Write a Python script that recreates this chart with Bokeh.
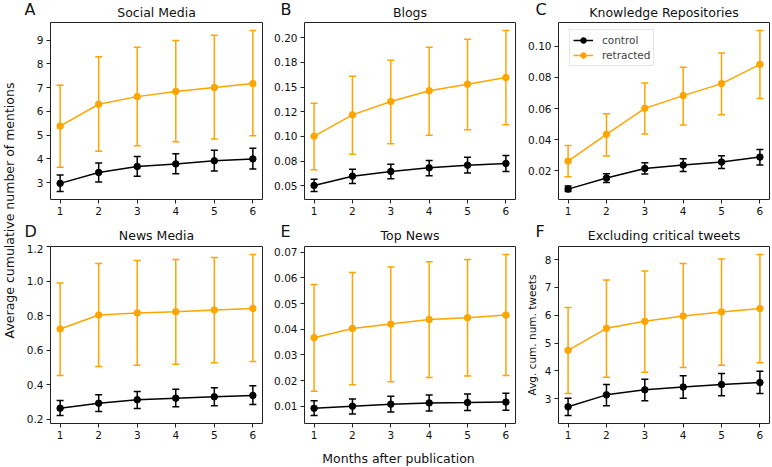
from bokeh.plotting import figure
from bokeh.layouts import row, column
from bokeh.models import (ColumnDataSource, Whisker, TeeHead, Range1d, FixedTicker,
                          Label, Legend, LegendItem)
from bokeh.embed import file_html
from bokeh.resources import INLINE
import math

# ---------------- data ----------------
months = [1, 2, 3, 4, 5, 6]

# A Social Media
sm_ret = [5.38, 6.30, 6.62, 6.84, 7.00, 7.17]
sm_ret_lo = [3.65, 4.32, 4.55, 4.72, 4.84, 4.97]
sm_ret_hi = [7.10, 8.30, 8.70, 8.98, 9.20, 9.40]
sm_ctl = [2.97, 3.43, 3.68, 3.79, 3.92, 4.00]
sm_ctl_lo = [2.63, 3.03, 3.27, 3.38, 3.49, 3.57]
sm_ctl_hi = [3.32, 3.83, 4.10, 4.22, 4.36, 4.45]

# B Blogs
bl_ret = [0.1003, 0.1219, 0.1354, 0.1463, 0.1530, 0.1597]
bl_ret_lo = [0.0662, 0.0820, 0.0926, 0.1013, 0.1067, 0.1118]
bl_ret_hi = [0.1337, 0.1610, 0.1773, 0.1905, 0.1986, 0.2074]
bl_ctl = [0.0503, 0.0597, 0.0645, 0.0682, 0.0709, 0.0726]
bl_ctl_lo = [0.0442, 0.0523, 0.0571, 0.0601, 0.0628, 0.0645]
bl_ctl_hi = [0.0567, 0.0668, 0.0719, 0.0756, 0.0790, 0.0807]

# C Knowledge Repositories
kr_ret = [0.0262, 0.0434, 0.0601, 0.0683, 0.0760, 0.0884]
kr_ret_lo = [0.0161, 0.0295, 0.0436, 0.0494, 0.0560, 0.0665]
kr_ret_hi = [0.0363, 0.0567, 0.0764, 0.0865, 0.0957, 0.1101]
kr_ctl = [0.0082, 0.0153, 0.0215, 0.0237, 0.0256, 0.0288]
kr_ctl_lo = [0.0067, 0.0125, 0.0179, 0.0195, 0.0215, 0.0237]
kr_ctl_hi = [0.0102, 0.0181, 0.0251, 0.0277, 0.0297, 0.0337]

# D News Media
nm_ret = [0.724, 0.805, 0.817, 0.824, 0.834, 0.843]
nm_ret_lo = [0.454, 0.506, 0.514, 0.520, 0.528, 0.535]
nm_ret_hi = [0.990, 1.103, 1.121, 1.127, 1.138, 1.155]
nm_ctl = [0.265, 0.294, 0.314, 0.323, 0.331, 0.339]
nm_ctl_lo = [0.223, 0.246, 0.264, 0.273, 0.279, 0.287]
nm_ctl_hi = [0.310, 0.343, 0.362, 0.375, 0.383, 0.395]

# E Top News
tn_ret = [0.0367, 0.0403, 0.0420, 0.0438, 0.0445, 0.0455]
tn_ret_lo = [0.0158, 0.0184, 0.0195, 0.0212, 0.0218, 0.0220]
tn_ret_hi = [0.0574, 0.0621, 0.0642, 0.0663, 0.0672, 0.0691]
tn_ctl = [0.0092, 0.0100, 0.0108, 0.0113, 0.0114, 0.0116]
tn_ctl_lo = [0.0064, 0.0070, 0.0077, 0.0081, 0.0083, 0.0084]
tn_ctl_hi = [0.0121, 0.0128, 0.0139, 0.0144, 0.0148, 0.0151]

# F Excluding critical tweets
ex_ret = [4.74, 5.53, 5.78, 5.97, 6.12, 6.24]
ex_ret_lo = [3.19, 3.77, 3.95, 4.12, 4.20, 4.29]
ex_ret_hi = [6.28, 7.27, 7.59, 7.86, 8.02, 8.18]
ex_ctl = [2.71, 3.14, 3.32, 3.42, 3.51, 3.58]
ex_ctl_lo = [2.40, 2.75, 2.93, 3.02, 3.11, 3.19]
ex_ctl_hi = [3.02, 3.51, 3.70, 3.83, 3.91, 3.99]

# tick positions and labels
sm_ticks = [3, 4, 5, 6, 7, 8, 9]
sm_labels = ["3", "4", "5", "6", "7", "8", "9"]
bl_ticks = [0.05, 0.075, 0.1, 0.125, 0.15, 0.175, 0.2]
bl_labels = ["0.05", "0.08", "0.10", "0.12", "0.15", "0.18", "0.20"]
kr_ticks = [0.02, 0.04, 0.06, 0.08, 0.10]
kr_labels = ["0.02", "0.04", "0.06", "0.08", "0.10"]
nm_ticks = [0.2, 0.4, 0.6, 0.8, 1.0, 1.2]
nm_labels = ["0.2", "0.4", "0.6", "0.8", "1.0", "1.2"]
tn_ticks = [0.01, 0.02, 0.03, 0.04, 0.05, 0.06, 0.07]
tn_labels = ["0.01", "0.02", "0.03", "0.04", "0.05", "0.06", "0.07"]
ex_ticks = [3, 4, 5, 6, 7, 8]
ex_labels = ["3", "4", "5", "6", "7", "8"]

titles = ["Social Media", "Blogs", "Knowledge Repositories",
          "News Media", "Top News", "Excluding critical tweets"]
letters = ["A", "B", "C", "D", "E", "F"]
series_names = ["control", "retracted"]
ylabel_main = "Average cumulative number of mentions"
ylabel_f = "Avg. cum. num. tweets"
xlabel = "Months after publication"

# ---------------- styling ----------------
FONT = "DejaVu Sans"
ORANGE = "#FFA500"
BLACK = "#000000"
TICK_FS = "10.5px"
TEXT_C = "#111111"


def make_panel(ret, ret_lo, ret_hi, ctl, ctl_lo, ctl_hi, ticks, labels,
               width, height, bl, br, bt, bb, legend=False, ylab=None):
    lo = min(ctl_lo + ret_lo)
    hi = max(ctl_hi + ret_hi)
    pad = 0.05 * (hi - lo)
    p = figure(width=width, height=height, output_backend="svg",
               toolbar_location=None, title=None,
               x_range=Range1d(0.75, 6.25), y_range=Range1d(lo - pad, hi + pad),
               min_border_left=bl, min_border_right=br,
               min_border_top=bt, min_border_bottom=bb)
    p.grid.visible = False
    p.outline_line_color = "#222222"
    p.outline_line_width = 1
    p.outline_line_alpha = 1
    for ax in (p.xaxis, p.yaxis):
        ax.axis_line_color = None
        ax.major_tick_out = 4
        ax.major_tick_in = 0
        ax.minor_tick_out = 0
        ax.minor_tick_in = 0
        ax.major_tick_line_color = "#222222"
        ax.major_label_text_font = FONT
        ax.major_label_text_font_size = TICK_FS
        ax.major_label_text_color = TEXT_C
        ax.major_label_standoff = 3
    p.xaxis.ticker = FixedTicker(ticks=months)
    p.yaxis.ticker = FixedTicker(ticks=ticks)
    p.yaxis.major_label_overrides = {t: l for t, l in zip(ticks, labels)}
    if ylab:
        p.yaxis.axis_label = ylab
        p.yaxis.axis_label_text_font = FONT
        p.yaxis.axis_label_text_font_size = "10.5px"
        p.yaxis.axis_label_text_font_style = "normal"
        p.yaxis.axis_label_text_color = TEXT_C
        p.yaxis.axis_label_standoff = 4

    items = []
    for vals, los, his, col, name in ((ctl, ctl_lo, ctl_hi, BLACK, series_names[0]),
                                      (ret, ret_lo, ret_hi, ORANGE, series_names[1])):
        src = ColumnDataSource(dict(x=months, y=vals, lo=los, hi=his))
        w = Whisker(source=src, base="x", upper="hi", lower="lo",
                    line_color=col, line_width=1.5,
                    upper_head=TeeHead(size=7, line_color=col, line_width=1.5),
                    lower_head=TeeHead(size=7, line_color=col, line_width=1.5))
        p.add_layout(w)
        lr = p.line("x", "y", source=src, line_color=col, line_width=1.5)
        sr = p.scatter("x", "y", source=src, size=6.5, fill_color=col, line_color=col)
        items.append(LegendItem(label=name, renderers=[lr, sr]))

    if legend:
        fh = height - bt - bb
        lg = Legend(items=items, location=(11, fh - 44), orientation="vertical",
                    label_text_font=FONT, label_text_font_size="10.5px",
                    glyph_width=20, glyph_height=14, label_height=14,
                    label_standoff=9, spacing=1, padding=3, margin=0,
                    border_line_color="#cccccc", border_line_width=1,
                    background_fill_alpha=0.8)
        p.add_layout(lg, "center")
    return p


def strip(width, height):
    s = figure(width=width, height=height, output_backend="svg",
               toolbar_location=None, title=None, min_border=0,
               x_range=Range1d(0, width), y_range=Range1d(0, height))
    s.axis.visible = False
    s.grid.visible = False
    s.outline_line_color = None
    return s


# geometry (page pixels)
LW = 20                      # width of left strip with the shared y label
FR_L = [50, 304, 558]        # frame left edges
FR_W = [212, 211, 211]       # frame widths
TOP_H, BOT_H = 202, 199
S1_H, S2_H, S3_H = 20, 22, 24

pA = make_panel(sm_ret, sm_ret_lo, sm_ret_hi, sm_ctl, sm_ctl_lo, sm_ctl_hi,
                sm_ticks, sm_labels, 248, TOP_H, 30, 6, 2, 23)
pB = make_panel(bl_ret, bl_ret_lo, bl_ret_hi, bl_ctl, bl_ctl_lo, bl_ctl_hi,
                bl_ticks, bl_labels, 254, TOP_H, 36, 7, 2, 23)
pC = make_panel(kr_ret, kr_ret_lo, kr_ret_hi, kr_ctl, kr_ctl_lo, kr_ctl_hi,
                kr_ticks, kr_labels, 250, TOP_H, 36, 3, 2, 23, legend=True)
pD = make_panel(nm_ret, nm_ret_lo, nm_ret_hi, nm_ctl, nm_ctl_lo, nm_ctl_hi,
                nm_ticks, nm_labels, 248, BOT_H, 30, 6, 2, 20)
pE = make_panel(tn_ret, tn_ret_lo, tn_ret_hi, tn_ctl, tn_ctl_lo, tn_ctl_hi,
                tn_ticks, tn_labels, 254, BOT_H, 36, 7, 2, 20)
pF = make_panel(ex_ret, ex_ret_lo, ex_ret_hi, ex_ctl, ex_ctl_lo, ex_ctl_hi,
                ex_ticks, ex_labels, 250, BOT_H, 36, 3, 2, 20, ylab=ylabel_f)

# title strips (text centred vertically at the given height above strip bottom)
s1 = strip(772 - LW, S1_H)
s2 = strip(772 - LW, S2_H)
letter_x = [24, 280, 535]
for k in range(3):
    for s, idx, yt, yl in ((s1, k, 8.5, 11.0), (s2, k + 3, 9.0, 13.0)):
        s.add_layout(Label(x=FR_L[k] + FR_W[k] / 2 - LW, y=yt, x_units="screen",
                           y_units="screen", text=titles[idx], text_font=FONT,
                           text_font_size="12.5px", text_align="center",
                           text_baseline="middle", text_color=TEXT_C))
        s.add_layout(Label(x=letter_x[k] - LW, y=yl, x_units="screen",
                           y_units="screen", text=letters[idx], text_font=FONT,
                           text_font_size="16px", text_align="left",
                           text_baseline="middle", text_color=TEXT_C))

# x label strip
s3 = strip(772 - LW, S3_H)
s3.add_layout(Label(x=398 - LW, y=9, x_units="screen", y_units="screen", text=xlabel,
                    text_font=FONT, text_font_size="12.5px", text_align="center",
                    text_baseline="middle", text_color=TEXT_C))

# shared y label strip
total_h = S1_H + TOP_H + S2_H + BOT_H + S3_H
pL = strip(LW, total_h)
pL.add_layout(Label(x=9, y=total_h - 210, x_units="screen", y_units="screen",
                    text=ylabel_main, angle=math.pi / 2, text_font=FONT,
                    text_font_size="12.5px", text_align="center",
                    text_baseline="middle", text_color=TEXT_C))

layout = row(pL, column(s1, row(pA, pB, pC), s2, row(pD, pE, pF), s3))

open("out.html", "w").write(file_html(layout, INLINE))
